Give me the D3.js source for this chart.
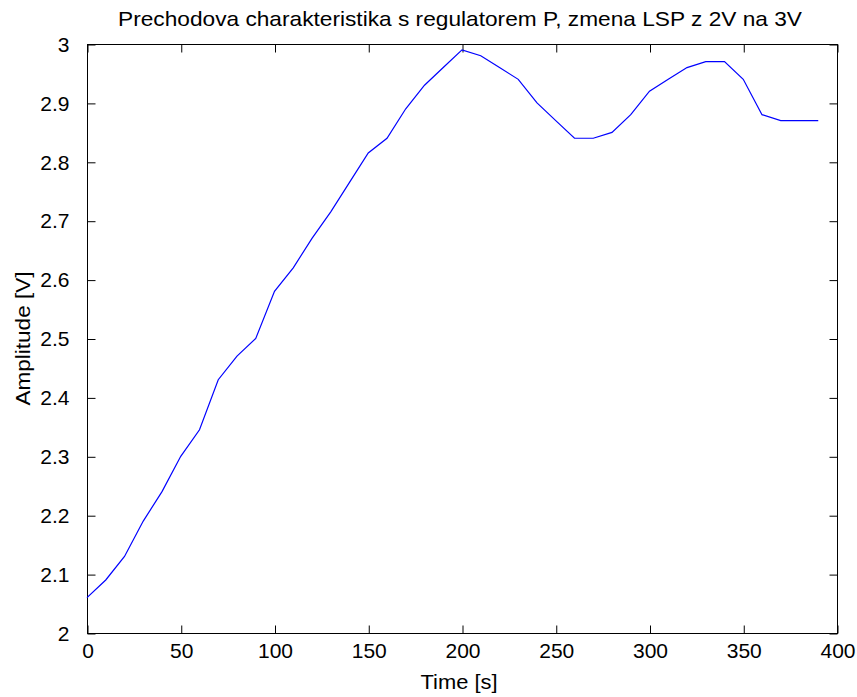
<!DOCTYPE html>
<html>
<head>
<meta charset="utf-8">
<script src="https://cdn.jsdelivr.net/npm/d3@7"></script>
<style>
  html, body { margin: 0; padding: 0; background: #fff; }
  svg { display: block; }
  text { font-family: "Liberation Sans", Arial, sans-serif; fill: #000; }
</style>
</head>
<body>
<svg id="chart" width="857" height="697"></svg>
<script>
// Step response samples (every 10 s)
const timeS = [0, 10, 20, 30, 40, 50, 60, 70, 80, 90,
               100, 110, 120, 130, 140, 150, 160, 170, 180, 190,
               200, 210, 220, 230, 240, 250, 260, 270, 280, 290,
               300, 310, 320, 330, 340, 350, 360, 370, 380, 390];
const amplitudeV = [2.06, 2.09, 2.13, 2.19, 2.24, 2.30, 2.345, 2.43, 2.47, 2.50,
                    2.58, 2.62, 2.67, 2.715, 2.765, 2.815, 2.84, 2.89, 2.93, 2.96,
                    2.99, 2.98, 2.96, 2.94, 2.90, 2.87, 2.84, 2.84, 2.85, 2.88,
                    2.92, 2.94, 2.96, 2.97, 2.97, 2.94, 2.88, 2.87, 2.87, 2.87];
const xTicks = [0, 50, 100, 150, 200, 250, 300, 350, 400];
const yTicks = [2, 2.1, 2.2, 2.3, 2.4, 2.5, 2.6, 2.7, 2.8, 2.9, 3];

const titleText = "Prechodova charakteristika s regulatorem P, zmena LSP z 2V na 3V";
const xLabel = "Time [s]";
const yLabel = "Amplitude [V]";

const plotL = 87, plotR = 837, plotT = 44, plotB = 633;
const svg = d3.select("#chart");

const x = d3.scaleLinear().domain([0, 400]).range([plotL, plotR]);
const y = d3.scaleLinear().domain([2, 3]).range([plotB, plotT]);

const fontSize = 21;
const tickLen = 8;

// Box around the plot area
svg.append("rect")
  .attr("x", plotL + 0.5).attr("y", plotT + 0.5)
  .attr("width", plotR - plotL).attr("height", plotB - plotT)
  .attr("fill", "none").attr("stroke", "#000").attr("stroke-width", 1);

// Inward ticks on all four sides
const fmtY = d => (d === 2 || d === 3) ? String(d) : d3.format(".1f")(d);

const xAxisB = d3.axisBottom(x).tickValues(xTicks).tickSize(-tickLen).tickPadding(tickLen + 12).tickFormat(d3.format("d"));
const xAxisT = d3.axisTop(x).tickValues(xTicks).tickSize(-tickLen).tickFormat("");
const yAxisL = d3.axisLeft(y).tickValues(yTicks).tickSize(-tickLen).tickPadding(tickLen + 10).tickFormat(fmtY);
const yAxisR = d3.axisRight(y).tickValues(yTicks).tickSize(-tickLen).tickFormat("");

function style(g) {
  g.select(".domain").remove();
  g.selectAll(".tick line").attr("stroke", "#000").attr("stroke-width", 1);
  g.selectAll(".tick text")
    .attr("font-family", "Liberation Sans, Arial, sans-serif")
    .attr("font-size", fontSize).attr("fill", "#000");
}

svg.append("g").attr("transform", `translate(0.5,${plotB + 0.5})`).call(xAxisB).call(style)
  .selectAll(".tick text").attr("dy", "0.2em");
svg.append("g").attr("transform", `translate(0.5,${plotT + 0.5})`).call(xAxisT).call(style);
svg.append("g").attr("transform", `translate(${plotL + 0.5},0.5)`).call(yAxisL).call(style);
svg.append("g").attr("transform", `translate(${plotR + 0.5},0.5)`).call(yAxisR).call(style);

// Response curve
const line = d3.line().x((d, i) => x(timeS[i])).y(d => y(d));
svg.append("path")
  .datum(amplitudeV)
  .attr("d", line)
  .attr("fill", "none")
  .attr("stroke", "#0000ff")
  .attr("stroke-width", 1.2);

// Title and axis labels
svg.append("text")
  .attr("x", (plotL + plotR) / 2 - 2).attr("y", 26)
  .attr("text-anchor", "middle").attr("font-size", fontSize)
  .attr("textLength", 684).attr("lengthAdjust", "spacingAndGlyphs")
  .text(titleText);

svg.append("text")
  .attr("x", 459).attr("y", 689)
  .attr("text-anchor", "middle").attr("font-size", fontSize)
  .attr("textLength", 77).attr("lengthAdjust", "spacingAndGlyphs")
  .text(xLabel);

svg.append("text")
  .attr("transform", `translate(30,${(plotT + plotB) / 2}) rotate(-90)`)
  .attr("text-anchor", "middle").attr("font-size", fontSize)
  .attr("textLength", 134).attr("lengthAdjust", "spacingAndGlyphs")
  .text(yLabel);
</script>
</body>
</html>
